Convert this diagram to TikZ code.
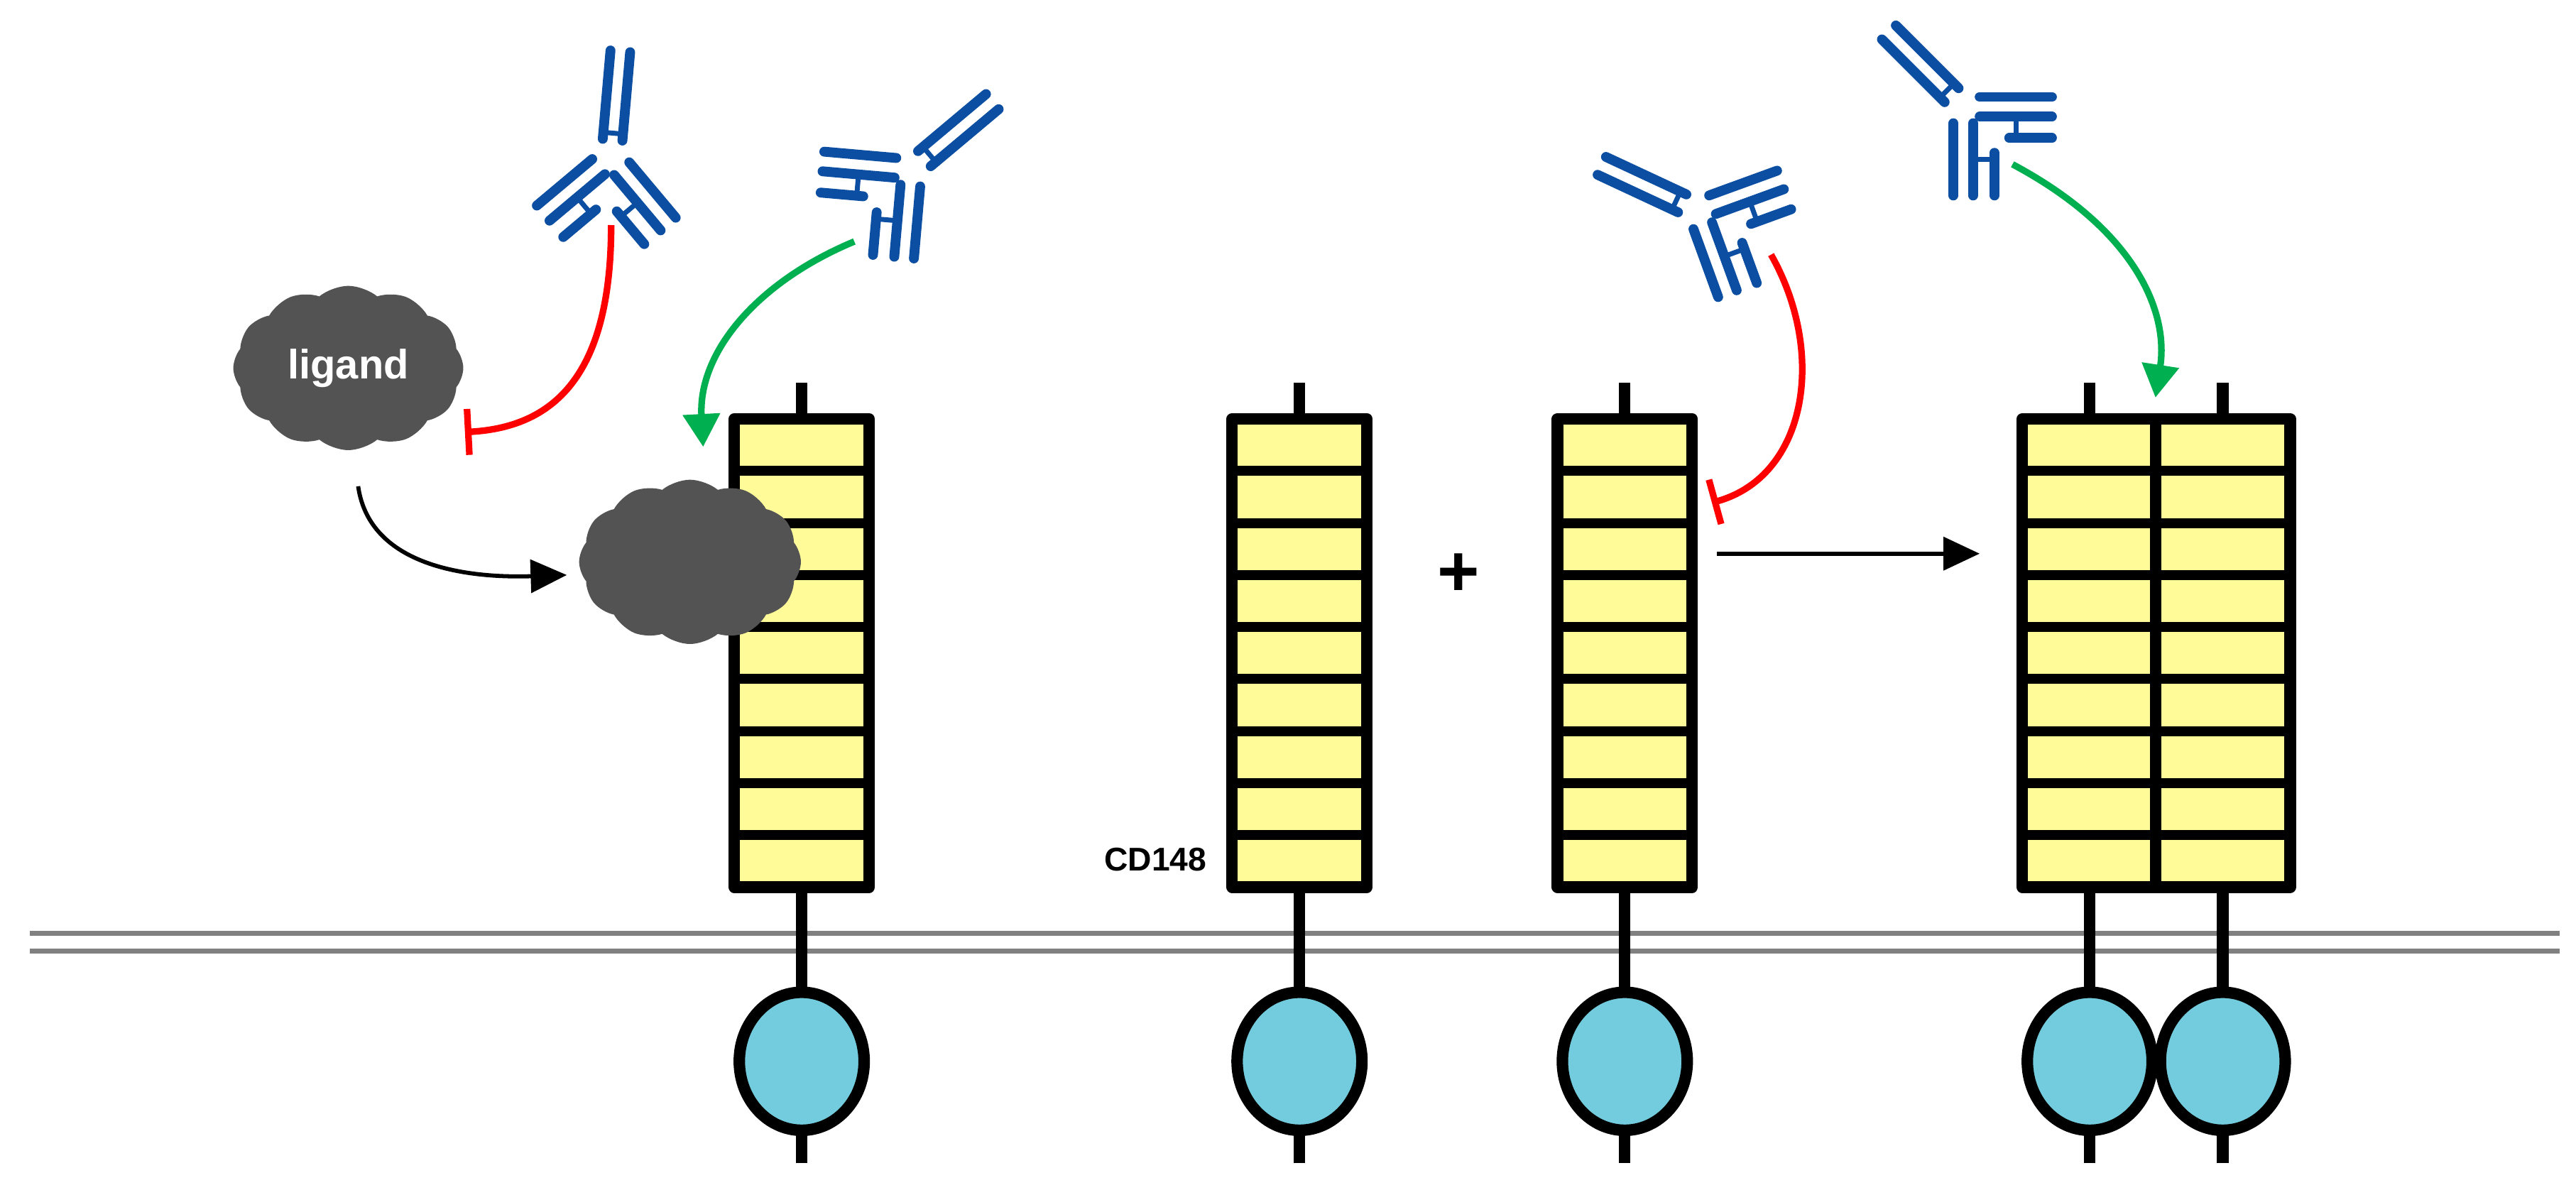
\documentclass[tikz,border=0pt]{standalone}
\usepackage{fontspec}
\setmainfont{Liberation Sans}
\usetikzlibrary{shapes.symbols,shapes.geometric,arrows.meta}
\definecolor{ab}{HTML}{0B4EA2}
\definecolor{yel}{HTML}{FFFB99}
\definecolor{cyan1}{HTML}{73CCDD}
\definecolor{gr}{HTML}{00B050}
\tikzset{
  rec/.style={line width=7pt, line join=round},
  abl/.style={draw=ab, line width=6pt, line cap=round},
  lig/.style={cloud, cloud puffs=12, cloud puff arc=80, aspect=1.4, fill=gray!65!black, draw=none, minimum width=140pt, minimum height=100pt, inner sep=0pt},
  inh/.style={draw=red, line width=4pt, -{Bar[width=28pt,line width=4pt]}},
  act/.style={draw=gr, line width=4pt, -{Triangle[width=22pt,length=20pt]}},
  blk/.style={draw=black, line width=2.5pt, -{Triangle[width=20pt,length=22pt]}},
  pics/antibody/.style={code={
    \foreach \a/\L in {0/64, 135/54, -135/54}{
      \begin{scope}[rotate=\a]
        \draw[abl] (-6,-10) -- (-6,-\L);
        \draw[abl] (6,-10) -- (6,-\L);
      \end{scope}}
    \foreach \a/\s in {135/-1,-135/1}{
      \begin{scope}[rotate=\a]
        \draw[abl] (\s*19,-28) -- (\s*19,-54);
        \draw[ab, line width=3pt] (\s*6,-32) -- (\s*19,-32);
      \end{scope}}
    \draw[ab, line width=3pt] (-6,-14) -- (6,-14);
  }}
}
\newcommand\myrec[2]{% x, name
  \draw[rec] (#1,233) -- (#1,255);
  \draw[rec, fill=yel] (#1-41,255) rectangle (#1+41,540);
  \foreach \i in {1,...,8}{\draw[line width=6pt] (#1-41,255+\i*31.67) -- (#1+41,255+\i*31.67);}
  \draw[rec] (#1,540) -- (#1,605);
  \draw[rec] (#1,688) -- (#1,708);
  \node[ellipse, draw, line width=7pt, fill=cyan1, minimum width=76pt, minimum height=84pt, inner sep=0pt] (#2) at (#1,646) {};
}
\begin{document}
\begin{tikzpicture}[x=1pt,y=-1pt]
\useasboundingbox (0,0) rectangle (1568,724);
\draw[gray, line width=3pt] (18,568) -- (1558,568);
\draw[gray, line width=3pt] (18,579) -- (1558,579);
\myrec{488}{r1}
\myrec{791}{r2}
\myrec{989}{r3}
\myrec{1272}{r4}
\myrec{1353}{r5}
\node[anchor=east, font=\bfseries\fontsize{20}{24}\selectfont] (cd) at (738,523) {CD148};
\node[font=\bfseries\fontsize{44}{48}\selectfont] (plus) at (888,350) {+};
\node[lig] (l1) at (212,224) {};
\node[font=\bfseries\fontsize{25}{30}\selectfont, text=white] at (l1) {ligand};
\node[lig, minimum width=135pt] (l2) at (420,342) {};
\pic[rotate=-5] (a1) at (372,95) {antibody};
\pic[rotate=-50] (a2) at (555,103) {antibody};
\pic[rotate=65] (a3) at (1033,128) {antibody};
\pic[rotate=45] (a4) at (1195,65) {antibody};
\coordinate (a1t) at (372,137);
\coordinate (i1) at (283,263);
\coordinate (a2t) at (520,147);
\coordinate (g1) at (428,272);
\coordinate (l1b) at (218,296);
\coordinate (l2w) at (345,350);
\coordinate (a3t) at (1078,155);
\coordinate (i2) at (1042,306);
\coordinate (a4t) at (1225,100);
\coordinate (g2) at (1312,242);
\coordinate (r3e) at (1045,337);
\coordinate (r4w) at (1205,337);
\draw[inh] (a1t) .. controls (372,225) and (340,260) .. (i1);
\draw[act] (a2t) .. controls (460,172) and (425,215) .. (g1);
\draw[blk] (l1b) .. controls (225,345) and (285,352) .. (l2w);
\draw[inh] (a3t) .. controls (1112,215) and (1100,290) .. (i2);
\draw[act] (a4t) .. controls (1300,140) and (1320,190) .. (g2);
\draw[blk] (r3e) -- (r4w);
\end{tikzpicture}
\end{document}
